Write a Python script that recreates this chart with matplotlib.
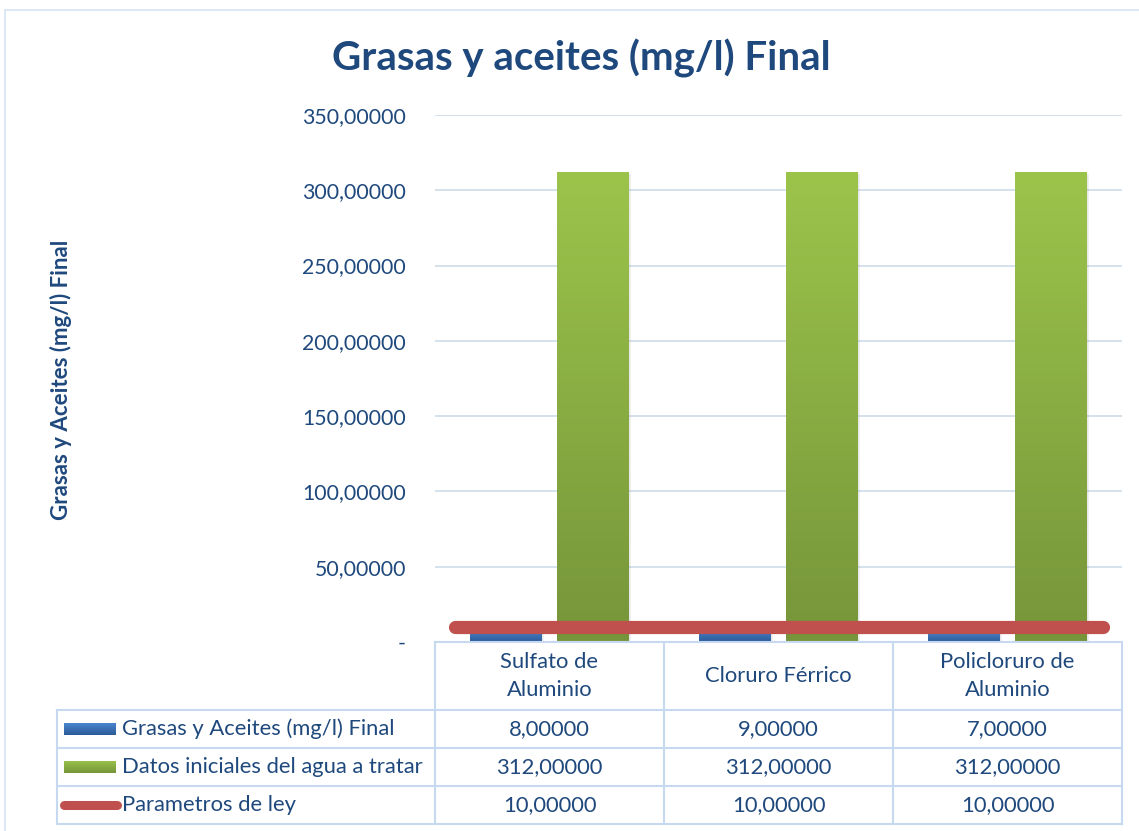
import numpy as np
import matplotlib.pyplot as plt
from matplotlib.patches import Rectangle
from matplotlib.lines import Line2D
from matplotlib.ticker import FuncFormatter, MultipleLocator
from matplotlib.colors import LinearSegmentedColormap

plt.rcParams['font.family'] = ['Lato', 'DejaVu Sans']

categorias = ['Sulfato de\nAluminio', 'Cloruro Férrico', 'Policloruro de\nAluminio']
grasas_final = [8.0, 9.0, 7.0]
datos_iniciales = [312.0, 312.0, 312.0]
parametros_ley = [10.0, 10.0, 10.0]
series_nombres = ['Grasas y Aceites (mg/l) Final', 'Datos iniciales del agua a tratar', 'Parametros de ley']

azul_osc = '#1F497D'
linea_tabla = '#C6D9F1'
rojo = '#C0504D'

W, H = 1139, 831
fig = plt.figure(figsize=(W / 100, H / 100), dpi=100)

def fx(px):
    return px / W

def fy(py):
    return 1 - py / H

# marco del grafico
fig.add_artist(Rectangle((fx(5), fy(840)), fx(1139 - 5 + 10), fy(10) - fy(840),
                         transform=fig.transFigure, fill=False, ec='#D6E3F3', lw=1.2))

ax = fig.add_axes([fx(435), fy(642), fx(1122 - 435), fy(115) - fy(642)])
x = np.arange(len(categorias))
ancho = 0.314
desp = 0.19

verde_cmap = LinearSegmentedColormap.from_list('verde', ['#76953A', '#9CC44B'])
azul_cmap = LinearSegmentedColormap.from_list('azul', ['#2C5A97', '#4A86CF'])

def barras(pos, vals, cmap):
    for p, v in zip(pos, vals):
        # sombra
        for k, a in [(4, 0.05), (3, 0.06), (2, 0.07)]:
            ax.add_patch(Rectangle((p - ancho / 2 + k * 0.0025, 0), ancho, v - k * 0.3,
                                   fc='gray', ec='none', alpha=a, zorder=2))
        r = Rectangle((p - ancho / 2, 0), ancho, v, fc='none', ec='none', zorder=3)
        ax.add_patch(r)
        grad = np.linspace(0, 1, 256).reshape(-1, 1)
        im = ax.imshow(grad, cmap=cmap, aspect='auto', origin='lower',
                       extent=[p - ancho / 2, p + ancho / 2, 0, v], zorder=3)
        im.set_clip_path(r)

barras(x - desp, grasas_final, azul_cmap)
barras(x + desp, datos_iniciales, verde_cmap)

ax.set_xlim(-0.5, len(categorias) - 0.5)
ax.set_ylim(0, 350)
ax.yaxis.set_major_locator(MultipleLocator(50))
ax.yaxis.set_major_formatter(FuncFormatter(
    lambda v, p: '-' if v == 0 else f'{v:.5f}'.replace('.', ',')))
ax.grid(axis='y', color='#D5E1EE', lw=1.4, zorder=0)
ax.set_axisbelow(True)
ax.set_xticks([])
for s in ax.spines.values():
    s.set_visible(False)
ax.tick_params(axis='y', length=0, pad=21, labelsize=15.3, labelcolor=azul_osc)

# linea de parametros en un eje gemelo
ax2 = ax.twiny()
ax2.set_xlim(-0.062, 2.059)
ax2.set_ylim(0, 350)
ax2.plot(x, parametros_ley, color=rojo, lw=9.5, solid_capstyle='round', zorder=5)
ax2.set_xticks([])
for s in ax2.spines.values():
    s.set_visible(False)

fig.text(fx(581), fy(58), 'Grasas y aceites (mg/l) Final', ha='center', va='center',
         fontsize=29, fontweight='bold', color=azul_osc)
fig.text(fx(61), fy(380), 'Grasas y Aceites (mg/l) Final', ha='center', va='center',
         rotation=90, fontsize=16, fontweight='bold', color=azul_osc)

# tabla de datos
cols = [435, 664, 893, 1122]
filas = [642, 710, 748, 786, 824]

def hline(y, x0, x1):
    fig.add_artist(Line2D([fx(x0), fx(x1)], [fy(y), fy(y)], color=linea_tabla, lw=1.5))

def vline(xp, y0, y1):
    fig.add_artist(Line2D([fx(xp), fx(xp)], [fy(y0), fy(y1)], color=linea_tabla, lw=1.5))

hline(filas[0], cols[0], cols[-1])
for yy in filas[1:]:
    hline(yy, 57, cols[-1])
vline(57, filas[1], filas[-1])
for c in cols:
    vline(c, filas[0], filas[-1])

for i, cat in enumerate(categorias):
    cx = (cols[i] + cols[i + 1]) / 2
    fig.text(fx(cx), fy((filas[0] + filas[1]) / 2), cat, ha='center', va='center',
             fontsize=15.8, color=azul_osc, linespacing=1.45)

valores = [grasas_final, datos_iniciales, parametros_ley]
for j, vals in enumerate(valores):
    cy = (filas[j + 1] + filas[j + 2]) / 2
    fig.text(fx(122), fy(cy), series_nombres[j], ha='left', va='center',
             fontsize=15.8, color=azul_osc)
    for i, v in enumerate(vals):
        cx = (cols[i] + cols[i + 1]) / 2
        fig.text(fx(cx), fy(cy), f'{v:.5f}'.replace('.', ','), ha='center', va='center',
                 fontsize=15.8, color=azul_osc)

# muestras de leyenda
def muestra(cy, cmap):
    grad = np.linspace(0, 1, 64).reshape(-1, 1)
    axm = fig.add_axes([fx(64), fy(cy + 6), fx(116 - 64), fy(cy - 6) - fy(cy + 6)])
    axm.imshow(grad, cmap=cmap, aspect='auto', origin='lower')
    axm.axis('off')

muestra((filas[1] + filas[2]) / 2, azul_cmap)
muestra((filas[2] + filas[3]) / 2, verde_cmap)
cy = (filas[3] + filas[4]) / 2
fig.add_artist(Line2D([fx(64), fx(117)], [fy(cy), fy(cy)], color=rojo, lw=6.5,
                      solid_capstyle='round'))

fig.savefig('out.png', dpi=100)
